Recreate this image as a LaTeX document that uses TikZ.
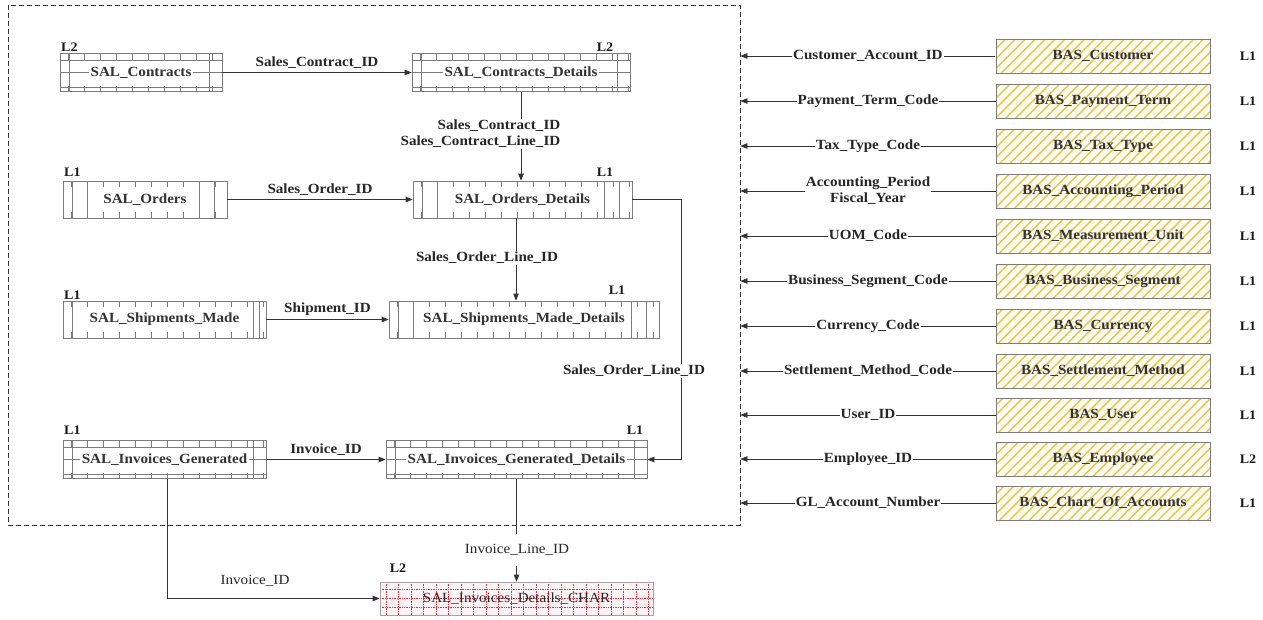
\documentclass[tikz,border=0pt]{standalone}
\usepackage{fontspec}
\setmainfont{Liberation Serif}[FakeStretch=1.08]
\usetikzlibrary{arrows.meta,patterns.meta,calc}
\definecolor{tg}{HTML}{7C7C7C}
\definecolor{ln}{HTML}{333333}
\definecolor{stripe}{HTML}{E9C24C}
\definecolor{cream}{HTML}{FFFCF0}
\definecolor{charred}{HTML}{E0303C}
\definecolor{charfill}{HTML}{FDF2F4}
\newcommand{\fsz}{\fontsize{14}{16}\selectfont}
\setlength{\fboxsep}{2pt}
\newcommand{\tblticks}{%
  \foreach \k in {0,...,22}{
    \draw[tg,line width=0.5pt] ([xshift=\k*16+8]path picture bounding box.north west) -- ++(0pt,-6pt);
    \draw[tg,line width=0.5pt] ([xshift=\k*16+8]path picture bounding box.south west) -- ++(0pt,6pt);
  }
  \draw[tg,line width=0.5pt] ([xshift=9pt]path picture bounding box.north west) -- ([xshift=9pt]path picture bounding box.south west);
  \draw[tg,line width=0.5pt] ([xshift=-13pt]path picture bounding box.north east) -- ([xshift=-13pt]path picture bounding box.south east);
}
\newcommand{\tblplain}{%
  \tblticks
  \draw[tg,line width=0.5pt] ([xshift=24pt]path picture bounding box.north west) -- ([xshift=24pt]path picture bounding box.south west);
  \draw[tg,line width=0.5pt] ([xshift=-28pt]path picture bounding box.north east) -- ([xshift=-28pt]path picture bounding box.south east);
}
\newcommand{\tblnarrow}{%
  \tblticks
  \draw[tg,line width=0.5pt] ([xshift=-7pt]path picture bounding box.north east) -- ([xshift=-7pt]path picture bounding box.south east);
}
\newcommand{\tblband}{%
  \tblticks
  \draw[tg,line width=0.5pt] ([yshift=-7pt]path picture bounding box.north west) -- ([yshift=-7pt]path picture bounding box.north east);
  \draw[tg,line width=0.5pt] ([yshift=4pt]path picture bounding box.south west) -- ([yshift=4pt]path picture bounding box.south east);
  \draw[tg,line width=0.5pt] (path picture bounding box.west) -- (path picture bounding box.east);
}
\tikzset{
  txt/.style={font=\fsz\bfseries, text=black!85, inner sep=1.5pt},
  rtxt/.style={font=\fsz, text=black!85, inner sep=1.5pt},
  lvl/.style={font=\fontsize{13}{14}\selectfont\bfseries, inner sep=0pt, text=black!90},
  arr/.style={draw=ln, line width=0.7pt, -{Triangle[length=7pt,width=5.5pt]}},
  tblbase/.style={draw=tg, line width=0.7pt, minimum height=37pt, inner sep=0pt, font=\fsz\bfseries, text=black!80},
  tbl/.style={tblbase, path picture={\tblplain}},
  tbln/.style={tblbase, path picture={\tblnarrow}},
  tblb/.style={tblbase, minimum height=38pt, path picture={\tblband}},
  bas/.style={draw=tg, line width=0.8pt, minimum width=214pt, minimum height=34pt, inner sep=0pt,
    preaction={fill=cream}, pattern={Lines[angle=45,distance=7pt,line width=1.4pt]}, pattern color=stripe,
    font=\fsz\bfseries, text=black!80},
  charbox/.style={draw=tg!70, line width=0.7pt, minimum width=273pt, minimum height=33pt, inner sep=0pt, fill=charfill,
    font=\fsz, text=black!85,
    path picture={
      \foreach \k in {0,...,22}
        \draw[charred, densely dotted, line width=0.7pt] ([xshift=\k*12.5+6]path picture bounding box.north west) -- ([xshift=\k*12.5+6]path picture bounding box.south west);
      \foreach \f in {0.22,0.48,0.78}
        \draw[charred, densely dotted, line width=0.7pt] ($(path picture bounding box.north west)!\f!(path picture bounding box.south west)$) -- ($(path picture bounding box.north east)!\f!(path picture bounding box.south east)$);
    }},
  lab/.style={txt, fill=white},
}
\begin{document}
\begin{tikzpicture}[x=1pt,y=-1pt]
\useasboundingbox[fill=white] (0,0) rectangle (1263,619);

% frame
\node (frame) [draw=ln, line width=0.8pt, dash pattern=on 5pt off 3pt, minimum width=732pt, minimum height=520pt, inner sep=0pt] at (374,265) {};

% left tables
\node (con)  [tblb, minimum width=162pt] at (141,72.5) {\colorbox{white}{SAL\_Contracts}};
\node (cond) [tblb, minimum width=218pt] at (521,72.5) {\colorbox{white}{SAL\_Contracts\_Details}};
\node (ord)  [tbl, minimum width=164pt] at (145,199.5) {SAL\_Orders};
\node (ordd) [tbl, minimum width=219pt] at (522.5,199.5) {SAL\_Orders\_Details};
\node (shp)  [tbln, minimum width=203pt] at (164.5,319.5) {SAL\_Shipments\_Made};
\node (shpd) [tbl, minimum width=270pt] at (524,319.5) {SAL\_Shipments\_Made\_Details};
\node (inv)  [tblb, minimum width=203pt] at (164.5,459.5) {\colorbox{white}{SAL\_Invoices\_Generated}};
\node (invd) [tblb, minimum width=261pt] at (516.5,459.5) {\colorbox{white}{SAL\_Invoices\_Generated\_Details}};
\node (charn) [charbox] at (516.5,598.5) {SAL\_Invoices\_Details\_CHAR};

% level labels
\node (lcon)  [lvl, anchor=west] at (61,47) {L2};
\node (lcond) [lvl] at (605,47) {L2};
\node (lord)  [lvl, anchor=west] at (64,172) {L1};
\node (lordd) [lvl] at (605,172) {L1};
\node (lshp)  [lvl, anchor=west] at (64,295) {L1};
\node (lshpd) [lvl] at (617,290) {L1};
\node (linv)  [lvl, anchor=west] at (64,430) {L1};
\node (linvd) [lvl] at (635,430) {L1};
\node (lchar) [lvl] at (398,568) {L2};

% horizontal connectors
\draw[arr] (con.east) -- node[txt, above=2pt] (t1) {Sales\_Contract\_ID} (cond.west);
\draw[arr] (ord.east) -- node[txt, above=2pt] (t2) {Sales\_Order\_ID} (ordd.west);
\draw[arr] (shp.east) -- node[txt, above=2pt] (t3) {Shipment\_ID} (shpd.west);
\draw[arr] (inv.east) -- node[txt, above=2pt] (t4) {Invoice\_ID} (invd.west);

% vertical connectors
\draw[arr] (cond.south) -- (cond.south |- ordd.north);
\node (t5) [lab, anchor=east, align=right] at (562,134) {Sales\_Contract\_ID\\Sales\_Contract\_Line\_ID};
\draw[arr] ([xshift=-6.5pt]ordd.south) -- ([xshift=-6.5pt]ordd.south |- shpd.north);
\node (t6) [lab] at (487,258) {Sales\_Order\_Line\_ID};
\draw[arr] (ordd.east) -- ++(49,0) |- (invd.east);
\node (t7) [lab] at (634,371) {Sales\_Order\_Line\_ID};

% to CHAR
\draw[arr] ([xshift=2.5pt]inv.south) |- (charn.west);
\node (t8) [rtxt] at (255,581) {Invoice\_ID};
\draw[arr] (invd.south) -- (charn.north);
\node (t9) [rtxt, fill=white, inner xsep=5pt, inner ysep=10pt] at (517,550) {Invoice\_Line\_ID};

% right column
\foreach \nm/\y/\txt/\lv/\lbl in {
  b1/56/BAS\_Customer/L1/Customer\_Account\_ID,
  b2/101/BAS\_Payment\_Term/L1/Payment\_Term\_Code,
  b3/146/BAS\_Tax\_Type/L1/Tax\_Type\_Code,
  b4/191/BAS\_Accounting\_Period/L1/{Accounting\_Period\\Fiscal\_Year},
  b5/236/BAS\_Measurement\_Unit/L1/UOM\_Code,
  b6/281/BAS\_Business\_Segment/L1/Business\_Segment\_Code,
  b7/326/BAS\_Currency/L1/Currency\_Code,
  b8/371/BAS\_Settlement\_Method/L1/Settlement\_Method\_Code,
  b9/415/BAS\_User/L1/User\_ID,
  b10/459/BAS\_Employee/L2/Employee\_ID,
  b11/503/BAS\_Chart\_Of\_Accounts/L1/GL\_Account\_Number}{
  \node (\nm) [bas] at (1103,\y) {\txt};
  \node (\nm l) [lvl] at (1248,\y) {\lv};
  \draw[arr] (\nm.west) -- node[txt, fill=white, align=center, inner sep=1pt] (\nm t) {\lbl} (\nm.west -| frame.east);
}
\end{tikzpicture}
\end{document}
